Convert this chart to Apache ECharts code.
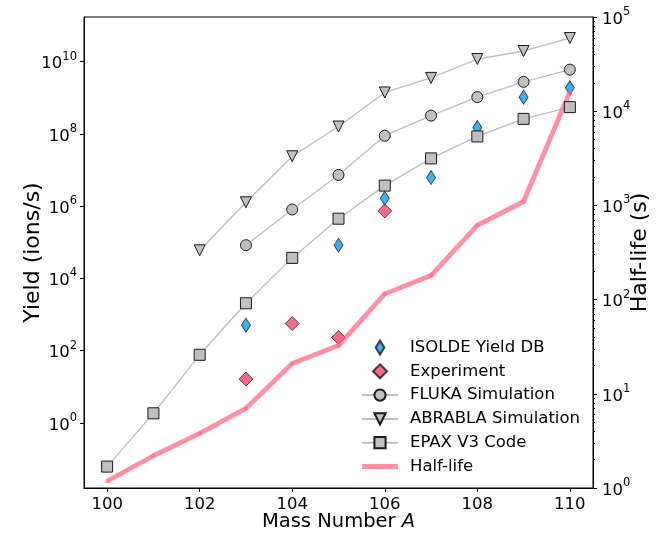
<!DOCTYPE html>
<html><head><meta charset="utf-8">
<script src="https://cdn.jsdelivr.net/npm/echarts@6/dist/echarts.min.js"></script>
<style>html,body{margin:0;padding:0;background:#fff}#c{width:659px;height:537px}</style>
</head><body><div id="c"></div>
<script>
// ---- data ----
const massNumbers = [100, 101, 102, 103, 104, 105, 106, 107, 108, 109, 110];
const flukaYield   = [null, null, null, 8.3e4, 8.1e5, 7.3e6, 8.9e7, 3.2e8, 1.04e9, 2.75e9, 6.0e9];
const abrablaYield = [null, null, 6.0e4, 1.28e6, 2.4e7, 1.6e8, 1.4e9, 3.55e9, 1.18e10, 1.97e10, 4.5e10];
const epaxYield    = [0.062, 1.85, 77, 2050, 3.7e4, 4.5e5, 3.7e6, 2.1e7, 8.5e7, 2.6e8, 5.5e8];
const isoldeMass   = [103, 105, 106, 107, 108, 109, 110];
const isoldeYield  = [510, 8.3e4, 1.65e6, 6.2e6, 1.5e8, 1.04e9, 1.88e9];
const expMass      = [103, 104, 105, 106];
const expYield     = [16.4, 564, 232, 7.4e5];
const halfLife     = [1.18, 2.2, 3.8, 7.0, 21, 32.5, 115, 180, 615, 1100, 1.6e4];
const xTicks = [100, 102, 104, 106, 108, 110];
const leftTickExp = [0, 2, 4, 6, 8, 10];
const rightTickExp = [0, 1, 2, 3, 4, 5];

const FONT = 'DejaVu Sans';
const lg = v => Math.log10(v);
function pts(xs, ys) {
  const out = [];
  xs.forEach((x, i) => { if (ys[i] != null) out.push([x, lg(ys[i])]); });
  return out;
}
const minorRight = [];
for (let n = 0; n < 5; n++) for (let k = 2; k <= 9; k++) minorRight.push(lg(k) + n);

const supRich = {
  b: {fontFamily: FONT, fontSize: 16.5, color: '#000', lineHeight: 22, verticalAlign: 'bottom'},
  s: {fontFamily: FONT, fontSize: 11.5, color: '#000', lineHeight: 13, verticalAlign: 'top'}
};
const powFmt = v => '{b|10}{s|' + Math.round(v) + '}';

const grayItem = {color: '#c0c0c0', borderColor: '#1a1a1a', borderWidth: 1};
const grayLine = {color: '#bdbdbd', width: 1.3};
const triDown = 'path://M0,0 L2,0 L1,2 Z';
const thinDiamond = 'path://M5,0 L10,8 L5,16 L0,8 Z';
const squareDiamond = 'path://M1,0 L2,1 L1,2 L0,1 Z';
const thickLine = 'path://M0,0 L36,0 L36,5 L0,5 Z';

const chart = echarts.init(document.getElementById('c'), null, {renderer: 'canvas'});
chart.setOption({
  animation: false,
  backgroundColor: '#fff',
  textStyle: {fontFamily: FONT},
  grid: {left: 84, right: 66, top: 17, bottom: 48, show: true, borderColor: '#000', borderWidth: 1, backgroundColor: 'transparent'},
  legend: {
    orient: 'vertical', left: 361, top: 339, padding: 0,
    itemWidth: 36, itemHeight: 14, itemGap: 6.8,
    textStyle: {fontFamily: FONT, fontSize: 16.5, color: '#000', padding: [0, 0, 0, 7]},
    data: [
      {name: 'ISOLDE Yield DB'}, {name: 'Experiment'}, {name: 'FLUKA Simulation'},
      {name: 'ABRABLA Simulation'}, {name: 'EPAX V3 Code'}, {name: 'Half-life', icon: thickLine}
    ]
  },
  xAxis: {
    type: 'value', min: 99.5, max: 110.5,
    axisLine: {show: true, onZero: false, lineStyle: {color: '#000', width: 1}},
    axisTick: {show: true, length: 4, lineStyle: {color: '#000'}, customValues: xTicks},
    axisLabel: {customValues: xTicks, fontFamily: FONT, fontSize: 16.5, color: '#000', margin: 8},
    splitLine: {show: false},
    name: '{t|Mass Number }{i|A}', nameLocation: 'middle', nameGap: 24, nameMoveOverlap: false,
    nameTextStyle: {rich: {
      t: {fontFamily: FONT, fontSize: 19.5, color: '#000'},
      i: {fontFamily: FONT, fontSize: 19.5, color: '#000', fontStyle: 'italic'}
    }}
  },
  yAxis: [
    {
      type: 'value', position: 'left', min: -1.8, max: 11.235,
      axisLine: {show: true, onZero: false, lineStyle: {color: '#000', width: 1}},
      axisTick: {show: true, length: 4, lineStyle: {color: '#000'}, customValues: leftTickExp},
      axisLabel: {customValues: leftTickExp, formatter: powFmt, rich: supRich, margin: 7},
      splitLine: {show: false},
      name: 'Yield (ions/s)', nameLocation: 'middle', nameGap: 40, nameRotate: 90, nameMoveOverlap: false,
      nameTextStyle: {fontFamily: FONT, fontSize: 22, color: '#000'}
    },
    {
      type: 'value', position: 'right', min: 0, max: 5,
      axisLine: {show: true, onZero: false, lineStyle: {color: '#000', width: 1}},
      axisTick: {show: true, length: 4, lineStyle: {color: '#000'}, customValues: rightTickExp},
      axisLabel: {customValues: rightTickExp, formatter: powFmt, rich: supRich, margin: 9},
      splitLine: {show: false},
      name: 'Half-life (s)', nameLocation: 'middle', nameGap: 36, nameRotate: 90, nameMoveOverlap: false,
      nameTextStyle: {fontFamily: FONT, fontSize: 22, color: '#000'}
    },
    {
      type: 'value', position: 'right', min: 0, max: 5,
      axisLine: {show: false, onZero: false},
      axisTick: {show: true, length: 2, lineStyle: {color: '#000'}, customValues: minorRight},
      axisLabel: {show: false, customValues: minorRight},
      splitLine: {show: false}
    }
  ],
  series: [
    {name: 'FLUKA Simulation', type: 'line', yAxisIndex: 0, data: pts(massNumbers, flukaYield),
     symbol: 'circle', symbolSize: 11, itemStyle: grayItem, lineStyle: grayLine},
    {name: 'ABRABLA Simulation', type: 'line', yAxisIndex: 0, data: pts(massNumbers, abrablaYield),
     symbol: triDown, symbolSize: 11, symbolKeepAspect: true, itemStyle: grayItem, lineStyle: grayLine},
    {name: 'EPAX V3 Code', type: 'line', yAxisIndex: 0, data: pts(massNumbers, epaxYield),
     symbol: 'rect', symbolSize: 11, itemStyle: grayItem, lineStyle: grayLine},
    {name: 'ISOLDE Yield DB', type: 'scatter', yAxisIndex: 0, data: pts(isoldeMass, isoldeYield),
     symbol: thinDiamond, symbolSize: [9, 14],
     itemStyle: {color: '#0a9cf0', borderColor: '#1a1a1a', borderWidth: 0.9}},
    {name: 'Experiment', type: 'scatter', yAxisIndex: 0, data: pts(expMass, expYield),
     symbol: squareDiamond, symbolSize: 14, symbolKeepAspect: true,
     itemStyle: {color: '#f2436b', borderColor: '#1a1a1a', borderWidth: 0.9}},
    {name: 'Half-life', type: 'line', yAxisIndex: 1, data: pts(massNumbers, halfLife),
     symbol: 'none', lineStyle: {color: 'rgba(255,95,125,0.7)', width: 4.8}, itemStyle: {color: 'rgba(255,95,125,0.7)'}},
    {name: 'hl-joints', type: 'scatter', yAxisIndex: 1, data: pts(massNumbers, halfLife),
     symbol: 'circle', symbolSize: 4.5, itemStyle: {color: 'rgba(255,95,125,0.6)'}, silent: true}
  ]
});
</script></body></html>
